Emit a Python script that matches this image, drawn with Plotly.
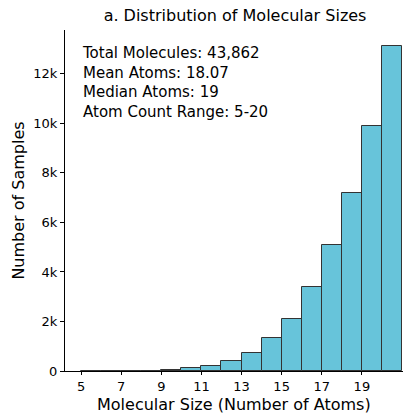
import plotly.graph_objects as go

# Data: histogram bins (left edges) and counts
bin_left = [5, 6, 7, 8, 9, 10, 11, 12, 13, 14, 15, 16, 17, 18, 19, 20]
counts = [0, 0, 2, 10, 50, 110, 200, 415, 735, 1313, 2116, 3386, 5073, 7200, 9880, 13130]
x_ticks = [5, 7, 9, 11, 13, 15, 17, 19]
y_ticks = [0, 2000, 4000, 6000, 8000, 10000, 12000]
y_tick_labels = ["0", "2k", "4k", "6k", "8k", "10k", "12k"]
stats_lines = [
    "Total Molecules: 43,862",
    "Mean Atoms: 18.07",
    "Median Atoms: 19",
    "Atom Count Range: 5-20",
]

font = "DejaVu Sans"

fig = go.Figure()
fig.add_trace(go.Bar(
    x=[b + 0.5 for b in bin_left],
    y=counts,
    width=[1.0] * len(bin_left),
    marker=dict(color="#67c4da", line=dict(color="#333333", width=1)),
    showlegend=False,
))

fig.update_layout(
    width=416, height=414,
    margin=dict(l=65, r=13, t=30, b=43),
    paper_bgcolor="white", plot_bgcolor="white",
    font=dict(family=font, color="black"),
    title=dict(text="a. Distribution of Molecular Sizes", x=0.565, xanchor="center",
               y=0.963, yanchor="middle", font=dict(size=16, family=font)),
    bargap=0,
)
fig.update_xaxes(
    range=[4.2, 21.05], tickvals=x_ticks, ticktext=[str(t) for t in x_ticks],
    showline=True, linecolor="black", linewidth=1, ticks="outside", ticklen=3,
    tickcolor="black", showgrid=False, zeroline=False, automargin=False,
    tickfont=dict(size=13),
)
fig.update_yaxes(
    range=[0, 13770], tickvals=y_ticks, ticktext=y_tick_labels,
    showline=True, linecolor="black", linewidth=1, ticks="outside", ticklen=4,
    tickcolor="black", showgrid=False, zeroline=False, automargin=False,
    tickfont=dict(size=13), title=dict(text="Number of Samples", font=dict(size=16),
                                       standoff=4),
)
fig.add_annotation(
    text="Molecular Size (Number of Atoms)", xref="paper", yref="paper",
    x=0.5, y=-0.098, xanchor="center", yanchor="middle", showarrow=False,
    font=dict(size=16, family=font),
)
fig.add_annotation(
    text="<br>".join(stats_lines), xref="paper", yref="paper",
    x=0.045, y=0.965, xanchor="left", yanchor="top", align="left",
    showarrow=False, font=dict(size=15, family=font),
)
fig.write_html("out.html")
